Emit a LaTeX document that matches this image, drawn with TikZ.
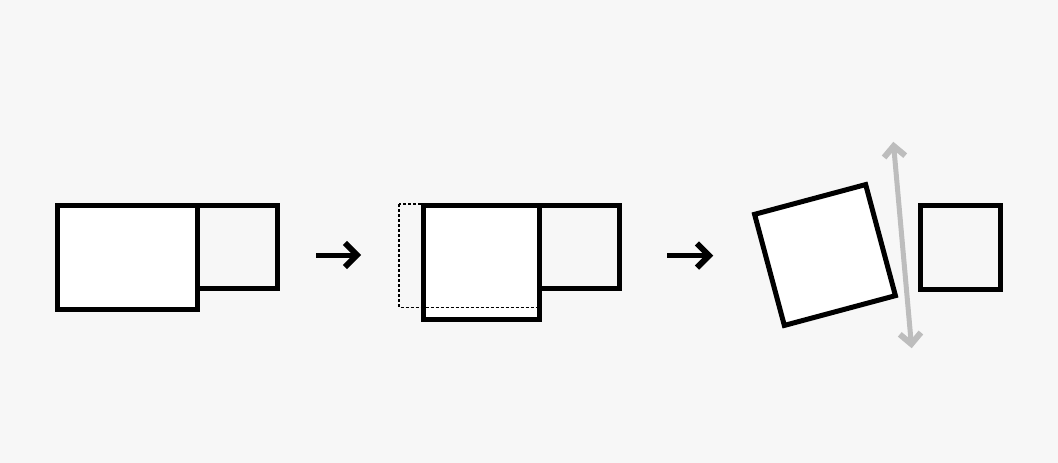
\documentclass[tikz,border=0pt]{standalone}
\usetikzlibrary{calc}
\definecolor{paper}{HTML}{F7F7F7}
\definecolor{guide}{HTML}{BDBDBD}
\tikzset{box/.style={line width=5pt}}
\tikzset{shaft/.style={line width=5pt,line join=miter}}
\tikzset{barb/.style={line width=6pt,line join=miter}}

\begin{document}
\begin{tikzpicture}[x=1pt,y=-1pt]
\fill[paper] (0,0) rectangle (1058,463);
% first: wide block and square
\coordinate (a) at (57.5,205.5);
\coordinate (b) at (197.5,309);
\draw[box,fill=white] (a) rectangle (b);
\draw[box] (197.5,205.5) coordinate (c) rectangle (277.5,288.5);
\coordinate (s1) at (316,255);
\coordinate (t1) at (357,255);
\draw[shaft] (s1) -- (t1);
\draw[barb] ($(t1)!17pt!45:(s1)$) -- (t1) -- ($(t1)!17pt!-45:(s1)$);
% second: block squared off, old outline dashed
\coordinate (d) at (423.5,205.5);
\fill[white] (d) rectangle (539,319.5);
\draw[line width=1.3pt,dash pattern=on 3pt off 2pt] (399,204) rectangle (539,307.5);
\draw[box] (d) rectangle (539,319.5);
\draw[box] (539,205.5) coordinate (e) rectangle (619,288.5);
\coordinate (s2) at (667,255.5);
\coordinate (t2) at (709,255.5);
\draw[shaft] (s2) -- (t2);
\draw[barb] ($(t2)!17pt!45:(s2)$) -- (t2) -- ($(t2)!17pt!-45:(s2)$);
% third: turned square and guide
\node[box,draw,fill=white,inner sep=0pt,minimum size=115pt,rotate=15] (turned) at (825,255) {};
\coordinate (up) at (893.7,146);
\coordinate (down) at (911.3,344);
\draw[guide,shaft] (up) -- (down);
\draw[guide,barb] ($(up)!15pt!45:(down)$) -- (up) -- ($(up)!15pt!-45:(down)$);
\draw[guide,barb] ($(down)!15pt!45:(up)$) -- (down) -- ($(down)!15pt!-45:(up)$);
\draw[box] (920.5,205.5) coordinate (f) rectangle (1000,289);
\end{tikzpicture}
\end{document}
